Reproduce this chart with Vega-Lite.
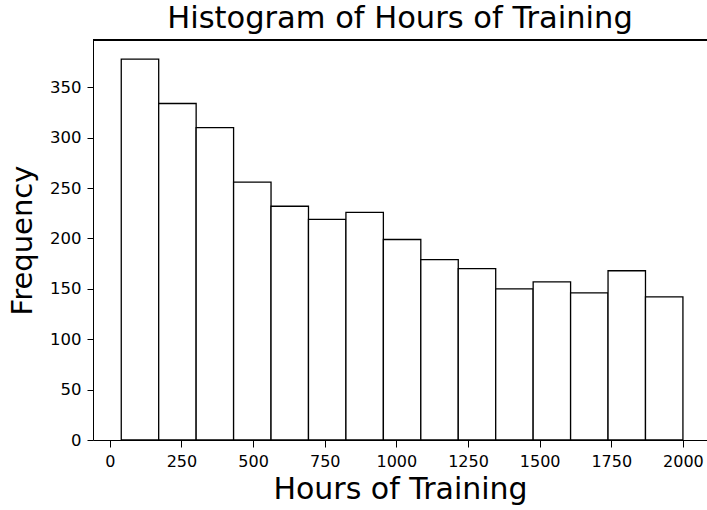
{
  "$schema": "https://vega.github.io/schema/vega-lite/v6.json",
  "width": 614,
  "height": 400,
  "autosize": {"type": "none"},
  "padding": {"left": 93, "top": 40, "right": 0, "bottom": 70},
  "background": "white",
  "config": {
    "view": {"stroke": null},
    "font": "DejaVu Sans"
  },
  "title": {
    "text": "Histogram of Hours of Training",
    "fontSize": 30.5,
    "font": "DejaVu Sans",
    "fontWeight": "normal",
    "color": "black",
    "anchor": "middle",
    "offset": 5
  },
  "data": {
    "values": [
      {"start": 40.0, "end": 170.67, "count": 378},
      {"start": 170.67, "end": 301.33, "count": 334},
      {"start": 301.33, "end": 432.0, "count": 310},
      {"start": 432.0, "end": 562.67, "count": 256},
      {"start": 562.67, "end": 693.33, "count": 232},
      {"start": 693.33, "end": 824.0, "count": 219},
      {"start": 824.0, "end": 954.67, "count": 226},
      {"start": 954.67, "end": 1085.33, "count": 199},
      {"start": 1085.33, "end": 1216.0, "count": 179},
      {"start": 1216.0, "end": 1346.67, "count": 170},
      {"start": 1346.67, "end": 1477.33, "count": 150},
      {"start": 1477.33, "end": 1608.0, "count": 157},
      {"start": 1608.0, "end": 1738.67, "count": 146},
      {"start": 1738.67, "end": 1869.33, "count": 168},
      {"start": 1869.33, "end": 2000.0, "count": 142}
    ]
  },
  "layer": [
    {
      "mark": {"type": "bar", "fill": "white", "stroke": "black", "strokeWidth": 1.3},
      "encoding": {
        "x": {
          "field": "start",
          "type": "quantitative",
          "scale": {"domain": [-58.6, 2084], "nice": false, "zero": false},
          "axis": {
            "title": "Hours of Training",
            "titleFontSize": 30,
            "titleFontWeight": "normal",
            "titleColor": "black",
            "titlePadding": 5,
            "values": [0, 250, 500, 750, 1000, 1250, 1500, 1750, 2000],
            "format": "d",
            "labelFontSize": 16,
            "labelColor": "black",
            "labelPadding": 6,
            "tickSize": 7,
            "tickColor": "black",
            "domainColor": "black",
            "grid": false,
            "labelFlush": false
          }
        },
        "x2": {"field": "end"},
        "y": {
          "field": "count",
          "type": "quantitative",
          "scale": {"domain": [0, 397], "nice": false},
          "axis": {
            "title": "Frequency",
            "titleFontSize": 29,
            "titleFontWeight": "normal",
            "titleColor": "black",
            "titlePadding": 12,
            "values": [0, 50, 100, 150, 200, 250, 300, 350],
            "format": "d",
            "labelFontSize": 16.5,
            "labelColor": "black",
            "labelPadding": 6,
            "tickSize": 6,
            "tickColor": "black",
            "domainColor": "black",
            "grid": false,
            "labelFlush": false
          }
        },
        "y2": {"datum": 0}
      }
    },
    {
      "mark": {"type": "rule", "color": "black", "strokeWidth": 1},
      "encoding": {"y": {"datum": 397, "type": "quantitative"}}
    }
  ]
}
